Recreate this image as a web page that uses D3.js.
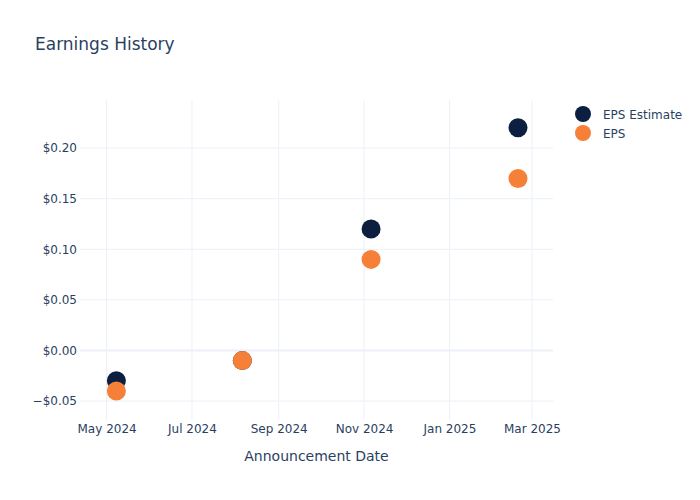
<!DOCTYPE html>
<html lang="en">
<head>
<meta charset="UTF-8">
<title>Earnings History</title>
<script src="https://cdn.jsdelivr.net/npm/d3@7"></script>
<style>
  * { margin: 0; padding: 0; }
  body { background: #fff; }
  svg { display: block; }
  text { font-family: "DejaVu Sans", sans-serif; fill: #2a3f5f; }
</style>
</head>
<body>
<svg></svg>
<script>
  // data
  const dates = ['2024-05-08', '2024-08-06', '2024-11-06', '2025-02-19'];
  const epsEstimate = [-0.03, -0.01, 0.12, 0.22];
  const epsActual = [-0.04, -0.01, 0.09, 0.17];
  const yTicks = [-0.05, 0, 0.05, 0.1, 0.15, 0.2];
  const xTicks = ['2024-05-01', '2024-07-01', '2024-09-01', '2024-11-01', '2025-01-01', '2025-03-01'];

  const width = 700, height = 500;
  const margin = { left: 80, top: 100, right: 147, bottom: 80 };
  const innerWidth = width - margin.left - margin.right;
  const innerHeight = height - margin.top - margin.bottom;

  const parse = d3.timeParse('%Y-%m-%d');
  const svg = d3.select('svg').attr('width', width).attr('height', height);
  const font = '"DejaVu Sans", sans-serif';

  const xScale = d3.scaleTime()
    .domain([parse('2024-04-12'), parse('2025-03-16')])
    .range([0, innerWidth]);
  const yScale = d3.scaleLinear()
    .domain([-0.0687, 0.2475])
    .range([innerHeight, 0]);

  const g = svg.append('g').attr('transform', `translate(${margin.left},${margin.top})`);

  // grid
  g.selectAll('.vgrid').data(xTicks).enter().append('line')
    .attr('x1', d => xScale(parse(d))).attr('x2', d => xScale(parse(d)))
    .attr('y1', 0).attr('y2', innerHeight)
    .attr('stroke', '#ebf0f8').attr('stroke-width', 1);
  g.selectAll('.hgrid').data(yTicks).enter().append('line')
    .attr('x1', 0).attr('x2', innerWidth)
    .attr('y1', d => yScale(d)).attr('y2', d => yScale(d))
    .attr('stroke', '#ebf0f8').attr('stroke-width', d => d === 0 ? 2 : 1);

  // axes (labels only, plotly style)
  const fmtY = d => (d < 0 ? '\u2212' : '') + '$' + Math.abs(d).toFixed(2);
  const yAxis = g.append('g').call(d3.axisLeft(yScale).tickValues(yTicks).tickFormat(fmtY).tickSize(0).tickPadding(3));
  yAxis.select('.domain').remove();
  yAxis.attr('font-family', font).attr('font-size', 12);
  yAxis.selectAll('text').attr('fill', '#2a3f5f');

  const xAxis = g.append('g').attr('transform', `translate(0,${innerHeight})`)
    .call(d3.axisBottom(xScale).tickValues(xTicks.map(parse)).tickFormat(d3.timeFormat('%b %Y')).tickSize(0).tickPadding(4));
  xAxis.select('.domain').remove();
  xAxis.attr('font-family', font).attr('font-size', 12);
  xAxis.selectAll('text').attr('fill', '#2a3f5f');

  // points
  const series = [
    { name: 'EPS Estimate', values: epsEstimate, color: '#0c1f40' },
    { name: 'EPS', values: epsActual, color: '#f68038' }
  ];
  series.forEach(s => {
    g.selectAll(null).data(dates.map((d, i) => ({ date: parse(d), v: s.values[i] }))).enter()
      .append('circle')
      .attr('cx', d => xScale(d.date))
      .attr('cy', d => yScale(d.v))
      .attr('r', 9.5)
      .attr('fill', s.color);
  });

  // title & axis title
  svg.append('text').attr('x', 35).attr('y', 50).attr('font-size', 17).text('Earnings History');
  svg.append('text').attr('x', margin.left + innerWidth / 2).attr('y', 461)
    .attr('text-anchor', 'middle').attr('font-size', 14).text('Announcement Date');

  // legend
  const legend = svg.append('g').attr('transform', 'translate(583,114)');
  series.forEach((s, i) => {
    const row = legend.append('g').attr('transform', `translate(0,${i * 19})`);
    row.append('circle').attr('r', 8).attr('fill', s.color);
    row.append('text').attr('x', 20).attr('y', 4.5).attr('font-size', 12).text(s.name);
  });
</script>
</body>
</html>
